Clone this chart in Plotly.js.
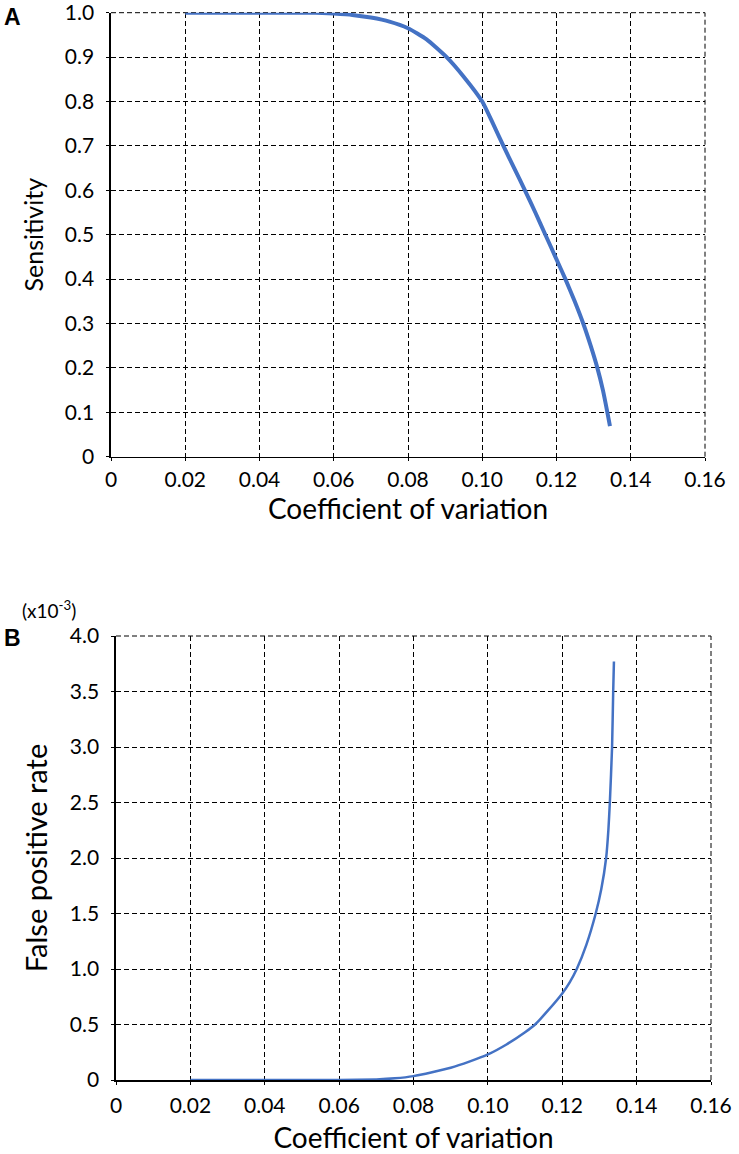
<!DOCTYPE html>
<html>
<head>
<meta charset="utf-8">
<script src="https://cdn.plot.ly/plotly-3.0.1.min.js"></script>
<style>
  html, body { margin: 0; padding: 0; background: #ffffff; }
  #chart { width: 739px; height: 1154px; }
</style>
</head>
<body>
<div id="chart"></div>
<script>
// ---- Panel A: Sensitivity vs coefficient of variation ----
const cvA = [0.020, 0.040, 0.055, 0.060, 0.065, 0.070, 0.075, 0.080, 0.085, 0.0904, 0.095, 0.100, 0.1029, 0.1057, 0.1086, 0.1115, 0.1143, 0.1170, 0.1197, 0.1224, 0.1249, 0.1272, 0.1292, 0.1310, 0.1325, 0.1337, 0.1344];
const sensitivity = [1.0, 1.0, 1.0, 0.998, 0.995, 0.989, 0.980, 0.965, 0.940, 0.900, 0.856, 0.800, 0.750, 0.700, 0.650, 0.600, 0.550, 0.500, 0.450, 0.400, 0.350, 0.300, 0.250, 0.200, 0.150, 0.100, 0.069];

// ---- Panel B: False positive rate (x10^-3) vs coefficient of variation ----
const cvB = [0.020, 0.040, 0.060, 0.070, 0.075, 0.080, 0.085, 0.090, 0.095, 0.100, 0.105, 0.110, 0.1127, 0.116, 0.120, 0.122, 0.1239, 0.1265, 0.1290, 0.1305, 0.1318, 0.1324, 0.1328, 0.1334, 0.1337, 0.1339];
const falsePositive = [0.0, 0.0, 0.0, 0.005, 0.015, 0.035, 0.07, 0.11, 0.165, 0.23, 0.32, 0.43, 0.50, 0.62, 0.78, 0.88, 1.00, 1.22, 1.50, 1.72, 2.00, 2.25, 2.50, 3.00, 3.50, 3.77];

// ---- Tick labels ----
const xTickVals = [0, 0.02, 0.04, 0.06, 0.08, 0.10, 0.12, 0.14, 0.16];
const xTickText = ['0', '0.02', '0.04', '0.06', '0.08', '0.10', '0.12', '0.14', '0.16'];
const yTickValsA = [0, 0.1, 0.2, 0.3, 0.4, 0.5, 0.6, 0.7, 0.8, 0.9, 1.0];
const yTickTextA = ['0', '0.1', '0.2', '0.3', '0.4', '0.5', '0.6', '0.7', '0.8', '0.9', '1.0'];
const yTickValsB = [0, 0.5, 1.0, 1.5, 2.0, 2.5, 3.0, 3.5, 4.0];
const yTickTextB = ['0', '0.5', '1.0', '1.5', '2.0', '2.5', '3.0', '3.5', '4.0'];

const lineColor = '#4472C4';
const fontFam = 'Lato, "Open Sans", sans-serif';

const traces = [
  { x: cvA, y: sensitivity, xaxis: 'x', yaxis: 'y', type: 'scatter', mode: 'lines',
    line: { color: lineColor, width: 4, shape: 'spline', smoothing: 0.5 }, hoverinfo: 'x+y' },
  { x: cvB, y: falsePositive, xaxis: 'x2', yaxis: 'y2', type: 'scatter', mode: 'lines',
    line: { color: lineColor, width: 2.5, shape: 'spline', smoothing: 0.5 }, hoverinfo: 'x+y' }
];

function xAxis(domain, anchor, labelStandoff, titleStandoff) {
  return {
    domain: domain, anchor: anchor, range: [0, 0.16],
    tickmode: 'array', tickvals: xTickVals, ticktext: xTickText,
    showgrid: true, gridcolor: '#000000', gridwidth: 1, griddash: '5px,3px',
    showline: true, linecolor: '#000000', linewidth: 1.6,
    ticks: 'outside', ticklen: 3, tickcolor: '#000000', tickwidth: 1,
    zeroline: false, fixedrange: true,
    tickfont: { family: fontFam, size: 21, color: '#000000' },
    ticklabelstandoff: labelStandoff,
    ticklabeloverflow: 'allow',
    title: { text: 'Coefficient of variation', font: { family: fontFam, size: 28, color: '#000000' }, standoff: titleStandoff },
    automargin: false
  };
}
function yAxis(domain, anchor, range, vals, text, title, titleSize, titleStandoff) {
  return {
    domain: domain, anchor: anchor, range: range,
    tickmode: 'array', tickvals: vals, ticktext: text,
    showgrid: true, gridcolor: '#000000', gridwidth: 1, griddash: '5px,3px',
    showline: true, linecolor: '#000000', linewidth: 1.6,
    ticks: 'outside', ticklen: 3, tickcolor: '#000000', tickwidth: 1,
    zeroline: false, fixedrange: true,
    tickfont: { family: fontFam, size: 21, color: '#000000' },
    ticklabelstandoff: 8,
    ticklabeloverflow: 'allow',
    title: { text: title, font: { family: fontFam, size: titleSize, color: '#000000' }, standoff: titleStandoff },
    automargin: false
  };
}

const W = 739, H = 1154;
const domXA = [111 / W, 705 / W];
const domYA = [1 - 456.7 / H, 1 - 12.7 / H];
const domXB = [116 / W, 711 / W];
const domYB = [1 - 1080 / H, 1 - 636 / H];

function borderShapes(xr, yr) {
  const common = { type: 'line', line: { color: '#000000', width: 1, dash: '5px,3px' }, layer: 'below' };
  return [
    Object.assign({ xref: xr + ' domain', yref: yr + ' domain', x0: 0, x1: 1, y0: 1, y1: 1 }, common),
    Object.assign({ xref: xr + ' domain', yref: yr + ' domain', x0: 1, x1: 1, y0: 0, y1: 1 }, common)
  ];
}

const layout = {
  width: W, height: H,
  margin: { l: 0, r: 0, t: 0, b: 0 },
  paper_bgcolor: '#ffffff', plot_bgcolor: '#ffffff',
  showlegend: false,
  font: { family: fontFam, color: '#000000' },
  xaxis: xAxis(domXA, 'y', 0, 10),
  yaxis: yAxis(domYA, 'x', [0, 1.0], yTickValsA, yTickTextA, 'Sensitivity', 25, 14),
  xaxis2: xAxis(domXB, 'y2', 3, 14),
  yaxis2: yAxis(domYB, 'x2', [0, 4.0], yTickValsB, yTickTextB, 'False positive rate', 29, 14),
  shapes: borderShapes('x', 'y').concat(borderShapes('x2', 'y2')),
  annotations: [
    { text: '<b>A</b>', xref: 'paper', yref: 'paper', x: 2 / W, y: 1 - 17 / H, xanchor: 'left', yanchor: 'middle',
      showarrow: false, font: { family: 'Liberation Sans, Arial, sans-serif', size: 23, color: '#000000' } },
    { text: '<b>B</b>', xref: 'paper', yref: 'paper', x: 2 / W, y: 1 - 638 / H, xanchor: 'left', yanchor: 'middle',
      showarrow: false, font: { family: 'Liberation Sans, Arial, sans-serif', size: 23, color: '#000000' } },
    { text: '(x10<sup>-3</sup>)', xref: 'paper', yref: 'paper', x: 20 / W, y: 1 - 609 / H, xanchor: 'left', yanchor: 'middle',
      showarrow: false, font: { family: fontFam, size: 19, color: '#000000' } }
  ]
};

Plotly.newPlot('chart', traces, layout, { displayModeBar: false, staticPlot: true });
</script>
</body>
</html>
